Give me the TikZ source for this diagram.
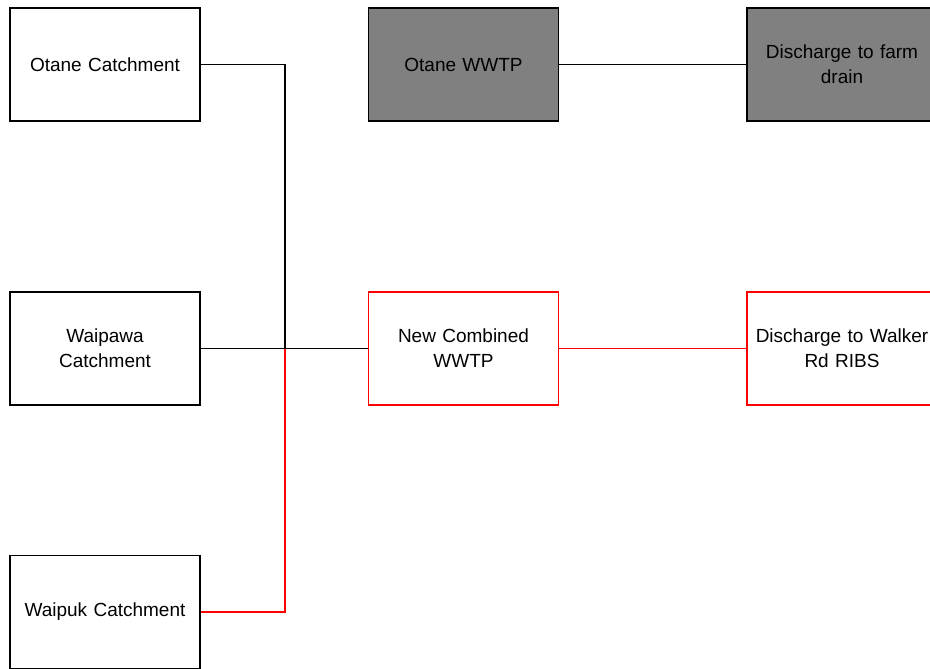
\documentclass[tikz,border=0pt]{standalone}
\usepackage{fontspec}
\setmainfont{Liberation Sans}
\begin{document}
\begin{tikzpicture}[x=1pt,y=-1pt,
  box/.style={draw=black,line width=1.8pt,minimum width=190pt,minimum height=113pt,align=center,font=\fontsize{19}{25}\selectfont,inner sep=0pt,text width=186pt},
  grey/.style={box,fill=gray},
  redbox/.style={box,draw=red},
  link/.style={line width=1.8pt,draw=black},
  redlink/.style={line width=1.8pt,draw=red}]
\useasboundingbox (0,0) rectangle (930,669);
\node[box] (oc) at (105,64.5) {Otane Catchment};
\node[box] (wc) at (105,348.5) {Waipawa\\Catchment};
\node[box] (wk) at (105,612) {Waipuk Catchment};
\node[grey] (ow) at (463.5,64.5) {Otane WWTP};
\node[grey] (df) at (842,64.5) {Discharge to farm\\drain};
\node[redbox] (nc) at (463.5,348.5) {New Combined\\WWTP};
\node[redbox] (dw) at (842,348.5) {Discharge to Walker\\Rd RIBS};
\coordinate (j) at (285,348.5);
\draw[link] (oc.east) -- (285,64.5) -- (j);
\draw[redlink] (wk.east) -- (285,612) -- (j);
\draw[link] (wc.east) -- (nc.west);
\draw[link] (ow.east) -- (df.west);
\draw[redlink] (nc.east) -- (dw.west);
\end{tikzpicture}
\end{document}
